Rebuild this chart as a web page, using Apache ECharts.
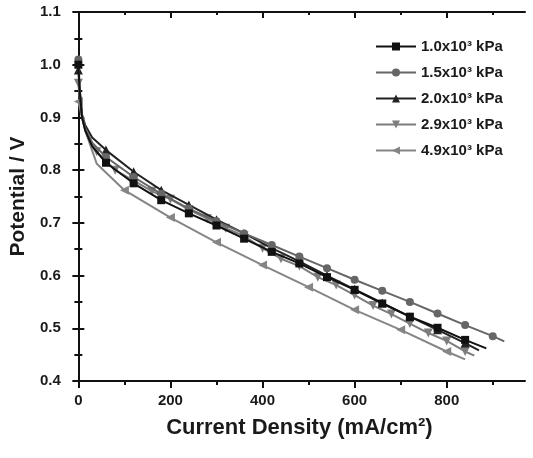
<!DOCTYPE html>
<html>
<head>
<meta charset="utf-8">
<script src="https://cdn.jsdelivr.net/npm/echarts@6/dist/echarts.min.js"></script>
<style>
html,body{margin:0;padding:0;background:#fff;}
#chart{width:533px;height:458px;}
</style>
</head>
<body>
<div id="chart"></div>
<script>
// ---- data ----
const seriesNames = ['1.0x10³ kPa', '1.5x10³ kPa', '2.0x10³ kPa', '2.9x10³ kPa', '4.9x10³ kPa'];

const current10 = [0, 3, 8, 15, 30, 60, 120, 180, 240, 300, 360, 420, 480, 540, 600, 660, 720, 780, 840, 886];
const potential10 = [1.00, 0.95, 0.90, 0.875, 0.845, 0.814, 0.775, 0.743, 0.718, 0.695, 0.670, 0.645, 0.623, 0.597, 0.573, 0.547, 0.522, 0.501, 0.478, 0.462];

const current15 = [0, 3, 8, 15, 30, 60, 120, 180, 240, 300, 360, 420, 480, 540, 600, 660, 720, 780, 840, 900, 925];
const potential15 = [1.01, 0.955, 0.905, 0.88, 0.852, 0.825, 0.787, 0.755, 0.727, 0.703, 0.680, 0.658, 0.636, 0.614, 0.592, 0.571, 0.550, 0.528, 0.506, 0.485, 0.475];

const current20 = [0, 3, 8, 15, 30, 60, 120, 180, 240, 300, 360, 420, 480, 540, 600, 660, 720, 780, 840, 870];
const potential20 = [0.99, 0.95, 0.905, 0.885, 0.862, 0.838, 0.797, 0.762, 0.734, 0.706, 0.680, 0.652, 0.627, 0.600, 0.574, 0.548, 0.522, 0.497, 0.472, 0.458];

const current29 = [0, 3, 8, 15, 40, 80, 120, 160, 200, 240, 280, 320, 360, 400, 440, 480, 520, 560, 600, 640, 680, 720, 760, 800, 840, 860];
const potential29 = [0.965, 0.935, 0.90, 0.875, 0.835, 0.800, 0.780, 0.760, 0.745, 0.725, 0.708, 0.690, 0.675, 0.652, 0.632, 0.618, 0.597, 0.582, 0.563, 0.543, 0.527, 0.509, 0.491, 0.476, 0.456, 0.448];

const current49 = [0, 4, 8, 15, 40, 100, 200, 300, 400, 500, 600, 700, 800, 840];
const potential49 = [0.93, 0.915, 0.90, 0.875, 0.812, 0.762, 0.710, 0.663, 0.620, 0.578, 0.535, 0.497, 0.456, 0.441];

const xMajorTicks = [0, 200, 400, 600, 800];
const xMinorTicks = [100, 300, 500, 700, 900];

// ---- chart ----
const seriesDefs = [
  { x: current10, y: potential10, color: '#111111', symbol: 'rect', rotate: 0, size: 8, step: 60 },
  { x: current15, y: potential15, color: '#666666', symbol: 'circle', rotate: 0, size: 8, step: 60 },
  { x: current20, y: potential20, color: '#222222', symbol: 'triangle', rotate: 0, size: 9, step: 60 },
  { x: current29, y: potential29, color: '#7d7d7d', symbol: 'triangle', rotate: 180, size: 9, step: 40 },
  { x: current49, y: potential49, color: '#858585', symbol: 'triangle', rotate: 90, size: 9, step: 100 }
];

const series = seriesDefs.map((d, i) => ({
  name: seriesNames[i],
  type: 'line',
  xAxisIndex: 0,
  yAxisIndex: 0,
  symbol: d.symbol,
  symbolRotate: d.rotate,
  symbolSize: d.size,
  showAllSymbol: true,
  lineStyle: { color: d.color, width: 2 },
  itemStyle: { color: d.color },
  data: d.x.map((xv, k) => {
    const item = { value: [xv, d.y[k]] };
    if (xv % d.step !== 0) item.symbol = 'none';
    return item;
  }),
  z: 5 - i
}));

const font = '"Liberation Sans", Arial, sans-serif';
const tickLabel = { fontFamily: font, fontWeight: 'bold', fontSize: 15, color: '#1a1a1a' };

const chart = echarts.init(document.getElementById('chart'));
chart.setOption({
  animation: false,
  backgroundColor: '#ffffff',
  grid: { left: 68, right: 8, top: 12, bottom: 77, containLabel: false },
  legend: {
    orient: 'vertical',
    left: 370,
    top: 34,
    itemWidth: 40,
    itemHeight: 10,
    itemGap: 11,
    textStyle: { fontFamily: font, fontWeight: 'bold', fontSize: 15, color: '#1a1a1a' },
    data: seriesNames
  },
  xAxis: [
    {
      type: 'value', position: 'bottom', min: -10, max: 970,
      name: 'Current Density (mA/cm²)', nameLocation: 'middle', nameGap: 36,
      nameTextStyle: { fontFamily: font, fontWeight: 'bold', fontSize: 22, color: '#1a1a1a' },
      axisLine: { show: true, lineStyle: { color: '#111', width: 2 } },
      axisTick: { show: true, inside: false, length: 7, customValues: xMajorTicks, lineStyle: { color: '#111', width: 2 } },
      axisLabel: Object.assign({ margin: 12, customValues: xMajorTicks }, tickLabel),
      splitLine: { show: false }
    },
    {
      type: 'value', position: 'bottom', min: -10, max: 970,
      axisLine: { show: false },
      axisTick: { show: true, inside: false, length: 4, customValues: xMinorTicks, lineStyle: { color: '#111', width: 2 } },
      axisLabel: { show: false },
      splitLine: { show: false }
    },
    {
      type: 'value', position: 'top', min: -10, max: 970,
      axisLine: { show: true, lineStyle: { color: '#111', width: 2 } },
      axisTick: { show: true, inside: true, length: 6, customValues: xMajorTicks, lineStyle: { color: '#111', width: 2 } },
      axisLabel: { show: false },
      splitLine: { show: false }
    },
    {
      type: 'value', position: 'top', min: -10, max: 970,
      axisLine: { show: false },
      axisTick: { show: true, inside: true, length: 3, customValues: xMinorTicks, lineStyle: { color: '#111', width: 2 } },
      axisLabel: { show: false },
      splitLine: { show: false }
    }
  ],
  yAxis: [
    {
      type: 'value', position: 'left', min: 0.4, max: 1.1, interval: 0.1,
      name: 'Potential / V', nameLocation: 'middle', nameGap: 40,
      nameTextStyle: { fontFamily: font, fontWeight: 'bold', fontSize: 21, color: '#1a1a1a' },
      axisLine: { show: true, lineStyle: { color: '#111', width: 2 } },
      axisTick: { show: true, inside: true, length: 6, lineStyle: { color: '#111', width: 2 } },
      minorTick: { show: true, splitNumber: 2, length: 4, lineStyle: { color: '#111', width: 2 } },
      axisLabel: Object.assign({ margin: 13, formatter: v => v.toFixed(1) }, tickLabel),
      splitLine: { show: false }
    },
    {
      type: 'value', position: 'right', min: 0.4, max: 1.1, interval: 0.1,
      axisLine: { show: true, lineStyle: { color: '#111', width: 2 } },
      axisTick: { show: true, inside: true, length: 6, lineStyle: { color: '#111', width: 2 } },
      minorTick: { show: true, splitNumber: 2, length: 4, lineStyle: { color: '#111', width: 2 } },
      axisLabel: { show: false },
      splitLine: { show: false }
    }
  ],
  series: series
});
</script>
</body>
</html>
